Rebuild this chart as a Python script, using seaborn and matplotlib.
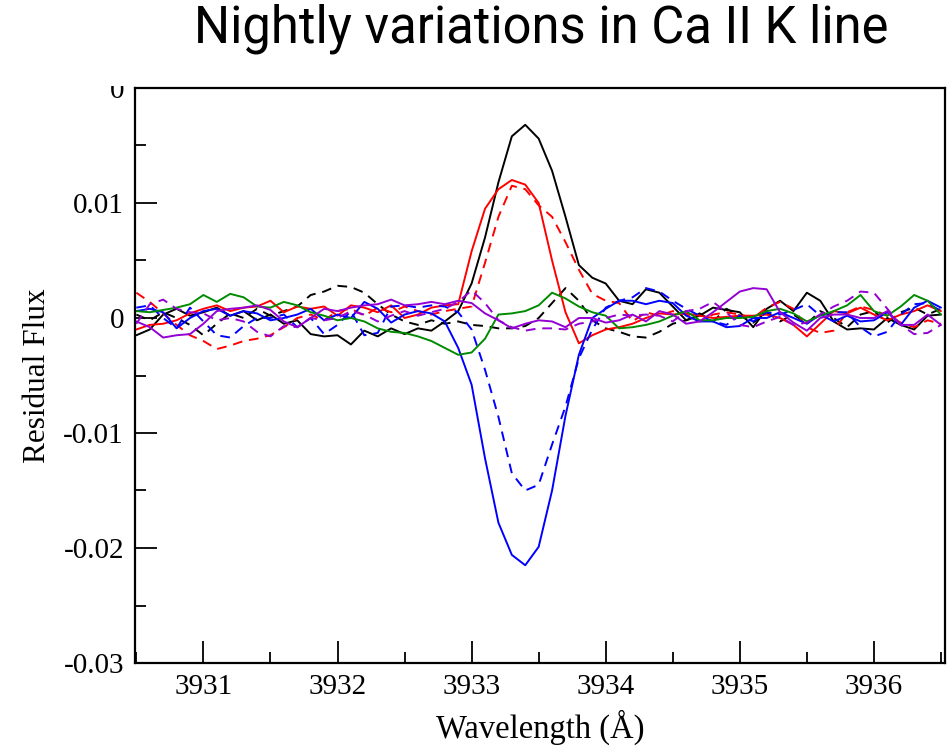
import numpy as np
import pandas as pd
import matplotlib
matplotlib.use("Agg")
import matplotlib.pyplot as plt
from matplotlib.patches import Rectangle
from matplotlib.ticker import MultipleLocator, FixedLocator, FixedFormatter
import seaborn as sns

# Wavelength sampling of the residual spectra (Angstrom)
wavelength = np.round(3930.5 + 0.1 * np.arange(61), 2)

# Residual flux of each night, in units of 1e-3
black_solid = [-1.5, -1.0, 0.3, 0.8, 0.2, 0.5, 0.9, 0.2, 0.6, -0.2,
               0.3, -0.5, -0.2, -1.4, -1.6, -1.5, -2.3, -1.1, -1.6, -0.9,
               -1.4, -0.9, -1.1, -0.3, 0.6, 3.0, 7.0, 11.8, 15.8, 16.8,
               15.6, 12.8, 8.8, 4.6, 3.5, 3.0, 1.5, 1.2, 2.5, 2.2,
               1.0, -0.2, 0.2, 0.9, 0.7, 0.5, -0.8, 0.8, 1.5, 0.6,
               2.2, 1.5, -0.3, -1.0, -0.9, -1.0, 0.0, -0.6, -1.0, 0.2,
               0.3]
black_dashed = [0.3, -0.2, 0.5, 0.0, -0.6, -1.5, -0.5, 0.4, 0.0, 0.8,
                0.2, 0.6, 1.0, 2.0, 2.3, 2.8, 2.7, 2.2, 1.2, 0.3,
                -0.3, -0.6, -0.2, -0.5, -0.3, -0.6, -0.7, -0.9, -0.9, -0.7,
                0.0, 1.3, 2.6, 1.5, -0.2, -0.9, -1.2, -1.6, -1.7, -1.2,
                -0.5, -0.2, 0.4, -0.3, 0.8, 0.2, -0.4, 0.5, -0.3, 0.3,
                -0.5, 0.6, 0.0, -0.8, 0.3, 0.6, -0.4, 0.5, 0.9, 0.3,
                0.8]
red_solid = [-1.0, -0.6, -0.5, -0.2, 0.4, 0.8, 1.1, 0.6, 0.9, 1.0,
             1.5, 0.5, 1.0, 0.8, 1.0, 0.2, 1.1, 0.9, 0.5, 1.1,
             0.0, 0.3, 0.9, 1.1, 1.2, 5.8, 9.5, 11.2, 12.0, 11.6,
             10.0, 5.0, 0.5, -2.2, -1.5, -1.0, -0.8, -0.5, 0.0, 0.4,
             0.3, 0.4, 0.2, 0.0, 0.1, 0.2, 0.2, 0.3, 0.0, -0.6,
             -1.6, -0.5, 0.6, 0.4, 0.9, 0.3, -0.2, 0.3, 0.6, 1.1,
             0.6]
red_dashed = [2.2, 1.4, 0.4, -0.6, -1.5, -2.0, -2.7, -2.4, -2.0, -1.8,
              -1.5, -0.8, 0.0, 0.3, -0.2, 0.6, 0.8, 0.2, 0.9, 0.5,
              1.0, 0.6, 0.3, 0.6, 0.8, 1.0, 4.8, 8.8, 11.5, 11.2,
              9.8, 8.8, 6.6, 4.2, 2.1, 1.5, 1.3, -0.3, 0.5, 0.2,
              0.6, 0.3, -0.3, 0.3, 0.5, 0.3, 0.0, 0.9, 1.4, 0.8,
              -0.8, -1.3, -1.1, 0.5, 1.0, 0.7, 0.2, -0.4, -0.8, -0.2,
              -0.5]
blue_solid = [0.6, 0.8, 0.5, -0.9, 0.0, 0.6, 0.8, 0.2, 0.6, 0.4,
              -0.2, 0.0, 0.3, 0.8, -0.2, 0.3, 0.0, 1.4, 0.8, -0.4,
              0.3, 0.6, 0.4, -0.3, -2.6, -5.8, -12.2, -17.8, -20.6, -21.5,
              -19.9, -15.0, -8.5, -3.2, 0.0, 0.8, 1.5, 1.5, 1.2, 1.5,
              1.3, 0.2, -0.3, -0.3, -0.8, -0.7, 0.0, 0.0, 0.5, 0.0,
              -0.5, 0.3, -0.3, 0.2, -0.3, -0.2, 0.5, -0.6, 0.9, 1.5,
              0.9]
blue_dashed = [0.9, 1.1, 0.0, -0.9, 0.9, -0.3, -1.5, -1.7, -0.7, 0.0,
               0.0, 0.3, -0.8, 0.0, -1.4, -0.6, 0.6, -1.5, -1.3, 1.0,
               1.1, 0.9, 1.1, 1.0, 0.5, -1.0, -4.5, -8.6, -13.5, -15.0,
               -14.5, -11.0, -7.7, -3.5, -1.0, 0.9, 1.5, 1.8, 2.6, 2.3,
               1.5, 0.8, 0.2, -0.3, -0.6, 0.2, -0.3, 0.5, 0.3, 0.7,
               1.2, 0.2, 0.5, 0.5, -0.8, -1.6, -1.2, 0.3, 1.2, 1.3,
               0.6]
green_solid = [0.6, 0.5, 0.7, 0.9, 1.2, 2.0, 1.4, 2.1, 1.8, 1.0,
               0.9, 1.4, 1.1, 0.5, 0.2, -0.2, 0.0, -0.3, -0.9, -1.2,
               -1.3, -1.6, -2.0, -2.6, -3.2, -3.0, -1.8, 0.3, 0.4, 0.6,
               1.1, 2.2, 1.7, 1.0, 0.5, 0.2, -0.9, -0.8, -0.6, -0.3,
               0.2, 0.6, -0.2, -0.2, 0.0, 0.0, 0.1, 0.6, 0.8, 0.4,
               -0.3, 0.2, 0.6, 1.1, 2.0, 0.6, 0.2, 1.0, 2.0, 1.5,
               0.3]
purple_solid = [-0.3, -0.8, -1.7, -1.5, -1.4, -0.5, 0.6, 0.8, 0.9, 1.1,
                0.7, -0.3, -0.8, 0.0, 0.8, 0.6, 0.9, 1.1, 1.2, 1.6,
                1.1, 1.2, 1.4, 1.2, 1.5, 1.3, 0.4, -0.2, -0.9, -0.5,
                -0.2, -0.3, -0.8, 0.0, 0.0, -0.4, -0.2, 0.3, -0.3, 0.6,
                0.3, -0.5, -0.3, 0.5, 1.4, 2.3, 2.6, 2.5, 0.5, -0.4,
                -1.1, 0.0, 0.3, 0.3, 0.0, 0.0, 0.6, -0.6, -0.6, 0.3,
                -0.6]
purple_dashed = [-0.5, 1.2, 1.6, 0.8, 0.5, 0.4, -0.2, 0.0, -0.3, -1.2,
                 -1.6, -0.7, -0.8, 0.0, -0.2, 0.0, 0.6, 0.3, -0.3, 0.2,
                 0.6, 0.2, 0.5, 0.8, 1.4, 2.4, 1.3, -0.2, -0.8, -1.1,
                 -0.9, -0.9, -1.0, -0.5, -0.3, 0.0, 0.3, 0.2, 0.3, 0.2,
                 -0.3, 0.6, 0.8, 1.4, 0.5, -0.6, -0.8, -0.3, 0.1, -0.6,
                 -0.4, 0.3, 1.0, 1.5, 2.3, 2.2, 0.8, -0.6, -1.4, -1.3,
                 -0.6]

series_names = ["black", "black dashed", "red", "red dashed", "blue",
                "blue dashed", "green", "purple", "purple dashed"]
series_values = [black_solid, black_dashed, red_solid, red_dashed, blue_solid,
                 blue_dashed, green_solid, purple_solid, purple_dashed]

y_tick_values = [-0.03, -0.02, -0.01, 0.0, 0.01, 0.02]
y_tick_labels = ["-0.03", "-0.02", "-0.01", "0", "0.01", "0"]
x_tick_values = [3931, 3932, 3933, 3934, 3935, 3936]
x_tick_labels = ["3931", "3932", "3933", "3934", "3935", "3936"]

title_text = "Nightly variations in Ca II K line"

frames = []
for name, vals in zip(series_names, series_values):
    frames.append(pd.DataFrame({"wavelength": wavelength,
                                "flux": np.asarray(vals) * 1e-3,
                                "night": name}))
df = pd.concat(frames, ignore_index=True)

colours = {"black": "#000000", "red": "#ff0000", "blue": "#0000ff",
           "green": "#008b00", "purple": "#9400d3"}
palette = {n: colours[n.split()[0]] for n in series_names}
dashes = {n: ((5, 3.5) if n.endswith("dashed") else "") for n in series_names}

sns.set_theme(style="white")
plt.rcParams["font.family"] = ["Liberation Serif", "DejaVu Serif"]

fig = plt.figure(figsize=(9.51, 7.48), dpi=100)
ax = fig.add_axes([135 / 951, 1 - 663 / 748, 810 / 951, (663 - 88) / 748])

sns.lineplot(data=df, x="wavelength", y="flux", hue="night", style="night",
             palette=palette, dashes=dashes, hue_order=series_names,
             style_order=series_names, linewidth=1.4, legend=False,
             estimator=None, sort=False, ax=ax)

ax.set_xlim(3930.49, 3936.53)
ax.set_ylim(-0.03, 0.02)
ax.xaxis.set_major_locator(FixedLocator(x_tick_values))
ax.xaxis.set_major_formatter(FixedFormatter(x_tick_labels))
ax.xaxis.set_minor_locator(MultipleLocator(0.5))
ax.yaxis.set_major_locator(FixedLocator(y_tick_values))
ax.yaxis.set_major_formatter(FixedFormatter(y_tick_labels))
ax.yaxis.set_minor_locator(MultipleLocator(0.005))

ax.tick_params(which="both", direction="in", top=False, right=False,
               bottom=True, left=True, color="black", width=1.3,
               labelsize=21, labelcolor="black")
ax.tick_params(which="major", length=16, pad=8)
ax.tick_params(which="minor", length=8)
for sp in ax.spines.values():
    sp.set_color("black")
    sp.set_linewidth(1.6)

ax.set_xlabel("Wavelength (Å)", fontsize=23.5, color="black", labelpad=7)
ax.set_ylabel("Residual Flux", fontsize=22.5, color="black", labelpad=8)

# white banner behind the title
fig.patches.append(Rectangle((0, 1 - 86 / 748), 1, 86 / 748,
                             transform=fig.transFigure, facecolor="white",
                             edgecolor="none", zorder=5))
fig.text(541 / 951, 1 - 29 / 748, title_text, ha="center", va="center",
         fontsize=36.5, family=["Roboto", "DejaVu Sans"], color="black",
         zorder=6)

fig.savefig("out.png", dpi=100, facecolor="white")
